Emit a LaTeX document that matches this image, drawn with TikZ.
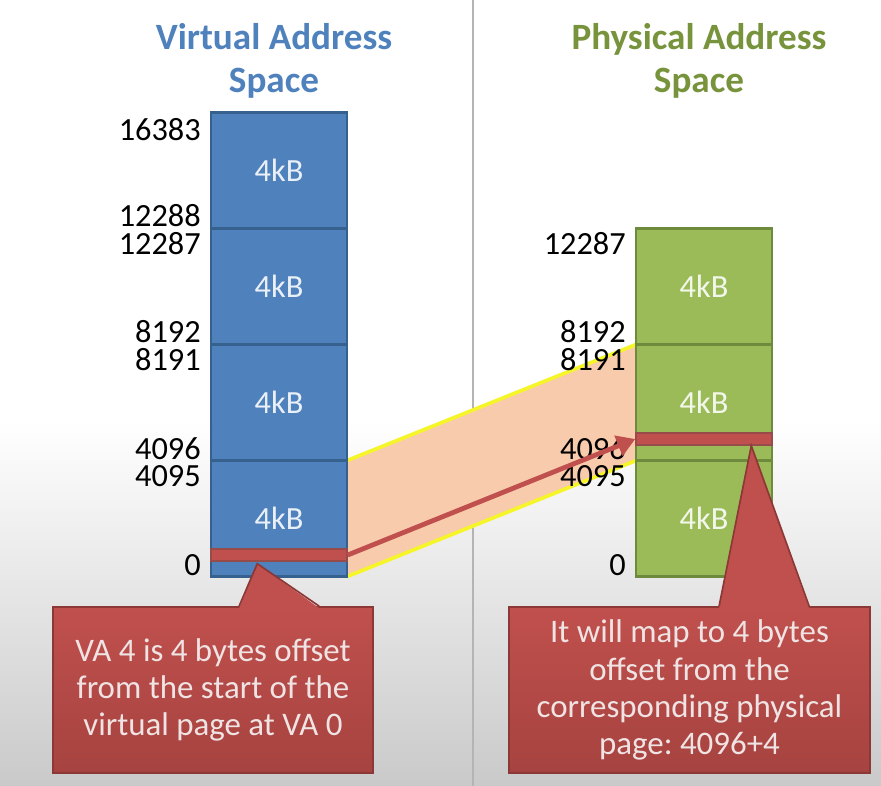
\documentclass[tikz,border=0pt]{standalone}
\usepackage{fontspec}
\setmainfont{Carlito}
\usepackage{tikz}
\usetikzlibrary{arrows.meta,calc,positioning,backgrounds}
\definecolor{vblue}{HTML}{4F81BD}
\definecolor{vblueline}{HTML}{36618F}
\definecolor{pgreen}{HTML}{9BBB59}
\definecolor{pgreenline}{HTML}{6E8B3D}
\definecolor{ptitle}{HTML}{77933C}
\definecolor{notered}{HTML}{C0504D}
\definecolor{notedark}{HTML}{A64340}
\definecolor{noteline}{HTML}{8C3836}
\definecolor{notetext}{HTML}{EFE3E3}
\definecolor{peach}{HTML}{F8CBAD}
\definecolor{mapyellow}{HTML}{F5F52A}
\definecolor{divider}{HTML}{B4B4B4}
\frenchspacing

\begin{document}
\begin{tikzpicture}[x=0.025cm,y=-0.025cm,
  title/.style={font=\fontsize{26.4}{30.5}\selectfont\bfseries,align=center},
  vpage/.style={draw=vblueline,fill=vblue,line width=1.8pt,outer sep=0pt,
    minimum width=3.4cm,minimum height=2.9cm,inner sep=0pt,
    text=white!88!vblue,font=\fontsize{23}{26}\selectfont},
  ppage/.style={vpage,draw=pgreenline,fill=pgreen,text=white!88!pgreen},
  strip/.style={draw=noteline!90,fill=notered,line width=1pt,
    minimum width=3.4cm,minimum height=0.3cm,inner sep=0pt},
  addr/.style={anchor=east,inner sep=0pt,font=\fontsize{23}{24}\selectfont},
  note/.style={draw=noteline,line width=1.2pt,top color=notered,
    bottom color=notedark,minimum height=4.15cm,align=center,
    text=notetext,font=\fontsize{23.4}{26.4}\selectfont},
  >=Triangle]
\useasboundingbox (0,0) rectangle (881,786);

% titles and divider
\node[title,vblue] (vtitle) at (274,61) {Virtual Address\\Space};
\node[title,ptitle] (ptitle) at (699,61) {Physical Address\\Space};

% virtual address space
\node[vpage] (vp3) at (279,170.5) {4kB};
\node[vpage,below=0pt of vp3] (vp2) {4kB};
\node[vpage,below=0pt of vp2] (vp1) {4kB};
\node[vpage,below=0pt of vp1] (vp0) {4kB};
\foreach \t/\y in {16383/130,12288/216,12287/244,8192/332,8191/360,
    4096/449,4095/476,0/565}
  \node[addr] (va\t) at (201,\y) {\t};

% physical address space
\node[ppage] (pp2) at (704,286.5) {4kB};
\node[ppage,below=0pt of pp2] (pp1) {4kB};
\node[ppage,below=0pt of pp1] (pp0) {4kB};
\foreach \t/\y in {12287/244,8192/332,8191/360,4096/449,4095/476,0/565}
  \node[addr] (pa\t) at (626,\y) {\t};

\begin{scope}[on background layer]
  \fill[white] (0,0) rectangle (881,786);
  \shade[top color=white,bottom color=black!21] (0,420) rectangle (881,786);
  \draw[divider,line width=1.2pt] (473,0) -- (473,786);
  \fill[peach] (vp0.north east) -- (pp1.north west)
    -- (pp1.south west) -- (vp0.south east) -- cycle;
  \draw[mapyellow,line width=2.6pt] (vp0.north east) -- (pp1.north west);
  \draw[mapyellow,line width=2.6pt] (vp0.south east) -- (pp1.south west);
\end{scope}

% the 4 byte offset
\node[strip] (vstrip) at (279,555) {};
\node[strip] (pstrip) at (704,439) {};
\draw[->,notered,line width=3.4pt] (vstrip.east) -- (pstrip.west);

% callouts
\node[note,minimum width=8cm] (note1) at (213,690)
  {VA 4 is 4 bytes offset\\from the start of the\\virtual page at VA 0};
\coordinate (tip1) at ($(vstrip.south west)+(47,2)$);
\fill[notered] ($(note1.north west)+(187,2)$) -- (tip1)
  -- ($(note1.north west)+(267,2)$) -- cycle;
\draw[noteline,line width=1.2pt] ($(note1.north west)+(187,0)$) -- (tip1)
  -- ($(note1.north west)+(267,0)$);

\node[note,minimum width=9.025cm] (note2) at (689.5,690)
  {It will map to 4 bytes\\offset from the\\corresponding physical\\page: 4096+4};
\coordinate (tip2) at ($(pstrip.south west)+(116,0)$);
\fill[notered] ($(note2.north west)+(211,2)$) -- (tip2)
  -- ($(note2.north west)+(301,2)$) -- cycle;
\draw[noteline,line width=1.2pt] ($(note2.north west)+(211,0)$) -- (tip2)
  -- ($(note2.north west)+(301,0)$);
\end{tikzpicture}
\end{document}
